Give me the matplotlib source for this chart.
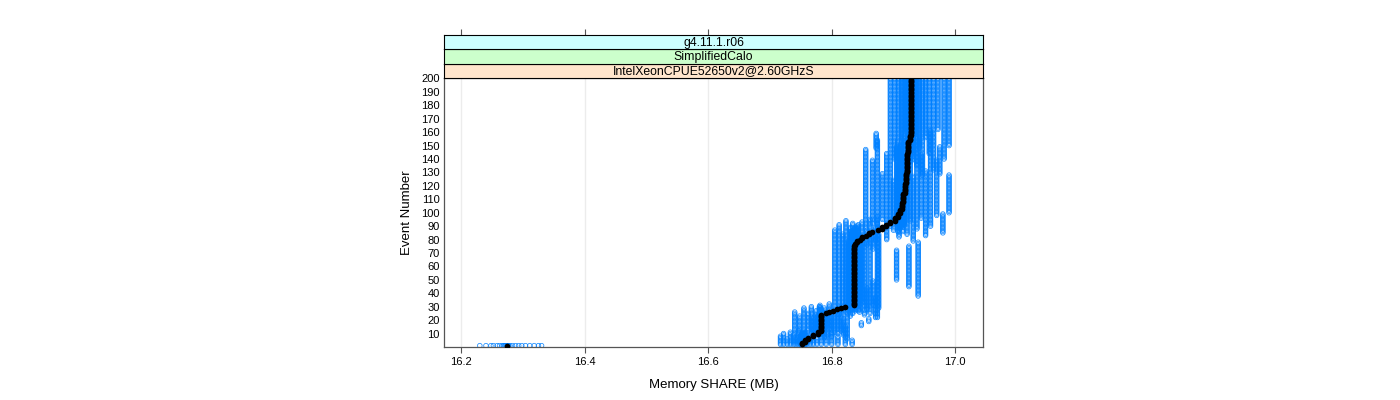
import matplotlib
matplotlib.use("Agg")
import numpy as np
import matplotlib.pyplot as plt

plt.rcParams['font.family'] = ['Liberation Sans', 'DejaVu Sans']

# strip labels (top to bottom)
strip_labels = ["g4.11.1.r06", "SimplifiedCalo", "IntelXeonCPUE52650v2@2.60GHzS"]
strip_colors = ["#ccffff", "#ccffcc", "#ffe5cc"]

n_events = 200
x_ticks = [16.2, 16.4, 16.6, 16.8, 17.0]
y_ticks = list(range(10, 201, 10))

# each run: (first event, memory share MB), value held until the next step
runs = [
    [(1, 16.230), (2, 16.717), (9, 16.740), (27, 16.805), (88, 16.855), (148, 16.872), (160, 16.895)],
    [(1, 16.240), (2, 16.722), (11, 16.748), (24, 16.812), (92, 16.866), (140, 16.902)],
    [(1, 16.248), (2, 16.728), (7, 16.755), (30, 16.818), (85, 16.874), (155, 16.908)],
    [(1, 16.252), (2, 16.733), (12, 16.762), (26, 16.823), (95, 16.882), (130, 16.913)],
    [(1, 16.258), (2, 16.738), (10, 16.767), (31, 16.827), (80, 16.889), (145, 16.917)],
    [(1, 16.262), (2, 16.742), (8, 16.771), (23, 16.830), (90, 16.895), (160, 16.921)],
    [(1, 16.266), (2, 16.746), (13, 16.775), (28, 16.832), (87, 16.900), (125, 16.924)],
    [(1, 16.268), (2, 16.750), (9, 16.780), (31, 16.833), (86, 16.907), (155, 16.927)],
    [(1, 16.270), (2, 16.749), (9, 16.778), (25, 16.834), (93, 16.905), (150, 16.926)],
    [(1, 16.271), (2, 16.752), (10, 16.782), (30, 16.836), (88, 16.910), (150, 16.928)],
    [(1, 16.272), (2, 16.751), (11, 16.781), (32, 16.835), (82, 16.909), (138, 16.928)],
    [(1, 16.274), (2, 16.753), (10, 16.783), (29, 16.836), (89, 16.912), (152, 16.929)],
    [(1, 16.275), (2, 16.755), (11, 16.784), (28, 16.839), (90, 16.913), (146, 16.930)],
    [(1, 16.276), (2, 16.756), (12, 16.785), (27, 16.838), (86, 16.915), (142, 16.931)],
    [(1, 16.277), (2, 16.758), (12, 16.786), (27, 16.843), (92, 16.916), (140, 16.932)],
    [(1, 16.279), (2, 16.760), (7, 16.788), (30, 16.841), (91, 16.918), (158, 16.934)],
    [(1, 16.283), (2, 16.765), (9, 16.792), (26, 16.845), (84, 16.922), (135, 16.938)],
    [(1, 16.288), (2, 16.770), (13, 16.796), (33, 16.849), (94, 16.927), (148, 16.942)],
    [(1, 16.293), (2, 16.776), (8, 16.800), (24, 16.853), (79, 16.932), (128, 16.947)],
    [(1, 16.298), (2, 16.783), (11, 16.805), (28, 16.857), (45, 16.925), (76, 16.857),
     (88, 16.938), (156, 16.952)],
    [(1, 16.304), (2, 16.791), (10, 16.810), (25, 16.862), (96, 16.945), (144, 16.958)],
    [(1, 16.311), (2, 16.800), (12, 16.815), (31, 16.867), (50, 16.905), (73, 16.867),
     (83, 16.952), (132, 16.965)],
    [(1, 16.318), (2, 16.810), (9, 16.819), (22, 16.871), (38, 16.940), (79, 16.871),
     (90, 16.960), (162, 16.972)],
    [(1, 16.325), (2, 16.822), (14, 16.822), (16, 16.848), (19, 16.860), (22, 16.874),
     (27, 16.874), (98, 16.970), (140, 16.982)],
    [(1, 16.330), (2, 16.833), (6, 16.825), (29, 16.876), (85, 16.980), (100, 16.990),
     (129, 16.975), (150, 16.990)],
]

# median per event, as steps
median_steps = [
    (1, 16.274), (2, 16.752), (4, 16.757), (6, 16.762), (8, 16.770), (10, 16.777),
    (12, 16.783), (25, 16.790), (26, 16.795), (27, 16.802), (28, 16.808), (29, 16.815),
    (30, 16.822), (31, 16.836), (76, 16.838), (78, 16.841), (80, 16.846), (81, 16.849),
    (83, 16.855), (84, 16.860), (86, 16.865), (87, 16.875), (88, 16.881), (90, 16.888),
    (92, 16.895), (94, 16.903), (97, 16.908), (100, 16.911), (103, 16.914), (108, 16.916),
    (115, 16.918), (122, 16.920), (130, 16.922), (145, 16.924), (154, 16.926), (158, 16.929),
]


def expand(steps):
    vals = []
    for e in range(1, n_events + 1):
        v = steps[0][1]
        for s, val in steps:
            if s <= e:
                v = val
        vals.append(v)
    return np.array(vals)


events = np.arange(1, n_events + 1)

fig = plt.figure(figsize=(14, 4), dpi=100)
ax = fig.add_axes([444 / 1400, 53 / 400, 539 / 1400, 269 / 400])

for steps in runs:
    ax.scatter(expand(steps), events, s=11, facecolors='none', edgecolors='#0080ff',
               linewidths=0.55, alpha=0.9, zorder=2)
ax.scatter(expand(median_steps), events, s=17, color='black', zorder=3, linewidths=0)

ax.set_xlim(16.172, 17.045)
ax.set_ylim(0, 200.3)
ax.set_xticks(x_ticks)
ax.set_xticklabels(["16.2", "16.4", "16.6", "16.8", "17.0"])
ax.set_yticks(y_ticks)
ax.tick_params(axis='both', labelsize=8, length=4, width=0.8, color='#555555', direction='out')
ax.tick_params(axis='y', length=0, pad=3)
for x in x_ticks:
    ax.axvline(x, color='#ececec', lw=1, zorder=0)
for sp in ax.spines.values():
    sp.set_color('#555555')
    sp.set_linewidth(0.9)
ax.set_xlabel("Memory SHARE (MB)", fontsize=9.5, labelpad=8)
ax.set_ylabel("Event Number", fontsize=9.5, labelpad=6)

# strips
strip_h = 14.4 / 400
top_panel = 1 - 78 / 400
for i, (lab, col) in enumerate(zip(strip_labels[::-1], strip_colors[::-1])):
    sax = fig.add_axes([444 / 1400, top_panel + i * strip_h, 539 / 1400, strip_h], sharex=ax)
    sax.set_facecolor(col)
    sax.set_yticks([])
    sax.tick_params(axis='x', bottom=False, labelbottom=False)
    if i == 2:
        sax.tick_params(axis='x', top=True, labeltop=False, length=4, width=0.8,
                        color='#555555', direction='out')
    for sp in sax.spines.values():
        sp.set_color('black')
        sp.set_linewidth(0.8)
    sax.text(0.5, 0.45, lab, transform=sax.transAxes, ha='center', va='center', fontsize=8.8)

fig.savefig("out.png", dpi=100)
